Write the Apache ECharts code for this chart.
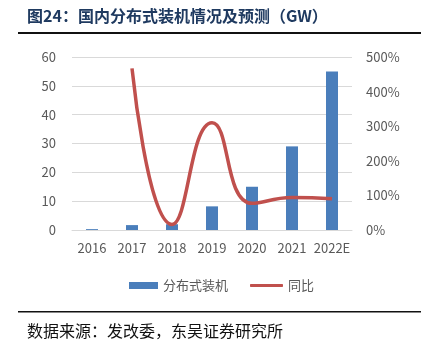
<!DOCTYPE html>
<html lang="zh">
<head>
    <meta charset="UTF-8">
    <title>国内分布式装机情况及预测</title>
    <script src="https://cdn.jsdelivr.net/npm/echarts@6/dist/echarts.min.js"></script>
    <style>
        html, body { margin: 0; padding: 0; background: #fff; }
        #chartBox { width: 433px; height: 352px; }
    </style>
</head>
<body>
    <div id="chartBox"></div>
    <script>
        var years = ['2016', '2017', '2018', '2019', '2020', '2021', '2022E'];
        var installed = [0.3, 1.7, 2.0, 8.2, 15.0, 29.0, 55.0];   // GW
        var yoy = [null, 467, 16, 310, 77, 94, 90];               // %

        var chart = echarts.init(document.getElementById('chartBox'));
        var font = '"Noto Sans CJK SC", "Noto Sans", sans-serif';

        var option = {
            animation: false,
            textStyle: { fontFamily: font },
            graphic: [
                {
                    type: 'text', left: 27, top: 8,
                    style: { text: '图24：国内分布式装机情况及预测（GW）', fill: '#1f3a60', font: 'bold 16px ' + font }
                },
                { type: 'rect', shape: { x: 18, y: 32, width: 403, height: 2 }, style: { fill: '#111' } },
                { type: 'rect', shape: { x: 18, y: 311, width: 403, height: 1.5 }, style: { fill: '#111' } },
                {
                    type: 'text', left: 27, top: 323,
                    style: { text: '数据来源：发改委，东吴证券研究所', fill: '#111', font: '16px ' + font }
                }
            ],
            grid: { left: 72, right: 81, top: 57, bottom: 122 },
            legend: [
                {
                    left: 124, top: 274,
                    itemWidth: 29, itemHeight: 7,
                    textStyle: { color: '#595959', fontSize: 13 },
                    data: [{ name: '分布式装机', icon: 'rect' }]
                },
                {
                    left: 245, top: 274,
                    itemWidth: 33, itemHeight: 3,
                    textStyle: { color: '#595959', fontSize: 13 },
                    data: [{ name: '同比', icon: 'roundRect' }]
                }
            ],
            xAxis: {
                type: 'category',
                data: years,
                axisTick: { show: false },
                axisLine: { lineStyle: { color: '#d9d9d9', width: 1 } },
                axisLabel: { color: '#595959', fontSize: 13, margin: 12, interval: 0 }
            },
            yAxis: [
                {
                    type: 'value', min: 0, max: 60, interval: 10,
                    axisLabel: { color: '#595959', fontSize: 13, margin: 16 },
                    splitLine: { lineStyle: { color: '#d9d9d9', width: 1 } }
                },
                {
                    type: 'value', min: 0, max: 500, interval: 100,
                    axisLabel: { color: '#595959', fontSize: 13, margin: 14, formatter: '{value}%' },
                    splitLine: { show: false }
                }
            ],
            series: [
                {
                    name: '分布式装机',
                    type: 'bar',
                    data: installed,
                    barWidth: 12,
                    itemStyle: { color: '#4a7ebb' }
                },
                {
                    name: '同比',
                    type: 'line',
                    yAxisIndex: 1,
                    data: yoy,
                    smooth: 0.5,
                    symbol: 'none',
                    lineStyle: { color: '#c0504d', width: 3.5 },
                    itemStyle: { color: '#c0504d' }
                }
            ]
        };
        chart.setOption(option);
    </script>
</body>
</html>
